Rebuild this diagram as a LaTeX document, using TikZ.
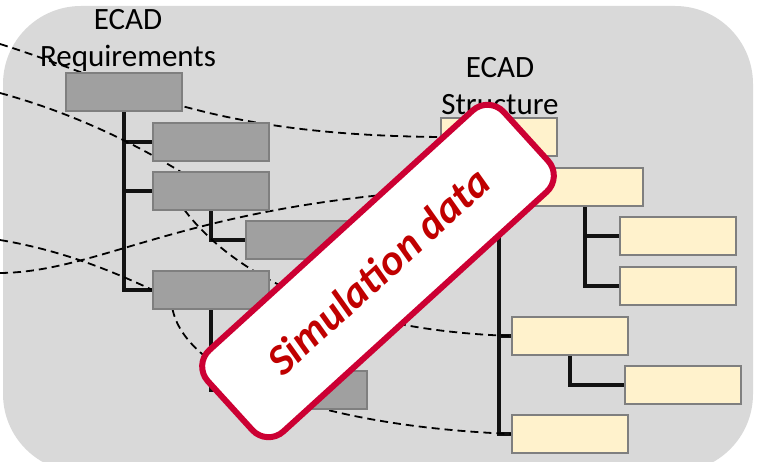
\documentclass[tikz,border=0pt]{standalone}
\usepackage{fontspec}
\newfontfamily\calfont{Carlito}
\usepackage{tikz}
\usetikzlibrary{positioning,backgrounds}

\definecolor{panelgray}{RGB}{217,217,217}
\definecolor{reqgray}{RGB}{160,160,160}
\definecolor{boxedge}{RGB}{127,127,127}
\definecolor{strcream}{RGB}{255,242,204}
\definecolor{stampred}{RGB}{204,0,51}
\definecolor{stamptext}{RGB}{192,0,0}

\tikzset{
  reqbox/.style={draw=boxedge, fill=reqgray, line width=2pt, minimum width=116pt, minimum height=38pt, inner sep=0pt, outer sep=0pt},
  strbox/.style={reqbox, fill=strcream},
  tree/.style={draw=black!93, line width=4pt},
  link/.style={draw=black, line width=1.8pt, dash pattern=on 8pt off 5pt},
  heading/.style={font=\calfont\fontsize{31}{37.5}\selectfont, align=center, inner sep=0pt},
  stamp/.style={draw=stampred, fill=white, line width=6pt, rounded corners=22pt, minimum width=400pt, minimum height=110pt, text=stamptext, font=\calfont\bfseries\itshape\fontsize{43}{50}\selectfont}
}

\begin{document}
\begin{tikzpicture}[x=1pt, y=-1pt, node distance=12pt]
  \useasboundingbox (0,0) rectangle (757,462);
  % requirements tree
  \node[reqbox] (r1) at (124,92) {};
  \node[reqbox, below=12pt of r1, xshift=86.5pt] (r2) {};
  \node[reqbox, below=11pt of r2] (r3) {};
  \node[reqbox, below=11.5pt of r3, xshift=93pt] (r4) {};
  \node[reqbox, below=61pt of r3] (r5) {};
  \node[reqbox, below=61.5pt of r5, xshift=98.5pt] (r6) {};
  \node[heading, above=1pt of r1, xshift=4pt] (reqtitle) {ECAD\\Requirements};
  % structure tree
  \node[strbox] (s1) at (498.5,137) {};
  \node[strbox, below=12pt of s1, xshift=86pt] (s2) {};
  \node[strbox, below=11pt of s2, xshift=93pt] (s3) {};
  \node[strbox, below=12pt of s3] (s4) {};
  \node[strbox, below=12pt of s4, xshift=-107.5pt] (s5) {};
  \node[strbox, below=11pt of s5, xshift=113pt] (s6) {};
  \node[strbox, below=11pt of s6, xshift=-113pt] (s7) {};
  \node[heading, above=3pt of s1, xshift=1.5pt] (strtitle) {ECAD\\Structure};

  \begin{scope}[on background layer]
    \fill[panelgray, rounded corners=78pt] (3,6) rectangle (753,472);
    \draw[tree] (r1.south) |- (r5.west);
    \draw[tree] (r1.south |- r2.west) -- (r2.west);
    \draw[tree] (r1.south |- r3.west) -- (r3.west);
    \draw[tree] (r3.south) |- (r4.west);
    \draw[tree] (r5.south) |- (r6.west);
    \draw[tree] (s1.south) |- (s7.west);
    \draw[tree] (s1.south |- s2.west) -- (s2.west);
    \draw[tree] (s1.south |- s5.west) -- (s5.west);
    \draw[tree] (s2.south) |- (s4.west);
    \draw[tree] (s2.south |- s3.west) -- (s3.west);
    \draw[tree] (s5.south) |- (s6.west);
    % trace links
    \coordinate (in1) at (0,44);
    \coordinate (in2) at (0,93);
    \coordinate (in3) at (0,240);
    \coordinate (in4) at (0,273);
    \draw[link] (in1) .. controls (130,85) and (200,135) .. (s1.west);
    \draw[link] (in2) .. controls (80,115) and (150,150) .. (r3.center);
    \draw[link] ([xshift=32pt]r3.south west) .. controls (230,270) and (330,330) .. (s5.west);
    \draw[link] (in3) .. controls (60,250) and (110,270) .. (r5.west);
    \draw[link] (in4) .. controls (110,272) and (200,192) .. (s2.west);
    \draw[link] ([xshift=20pt]r5.south west) .. controls (185,370) and (300,425) .. (s7.west);
  \end{scope}

  \node[stamp, rotate=42.3] (stamp) at (378,271) {Simulation data};
\end{tikzpicture}
\end{document}
